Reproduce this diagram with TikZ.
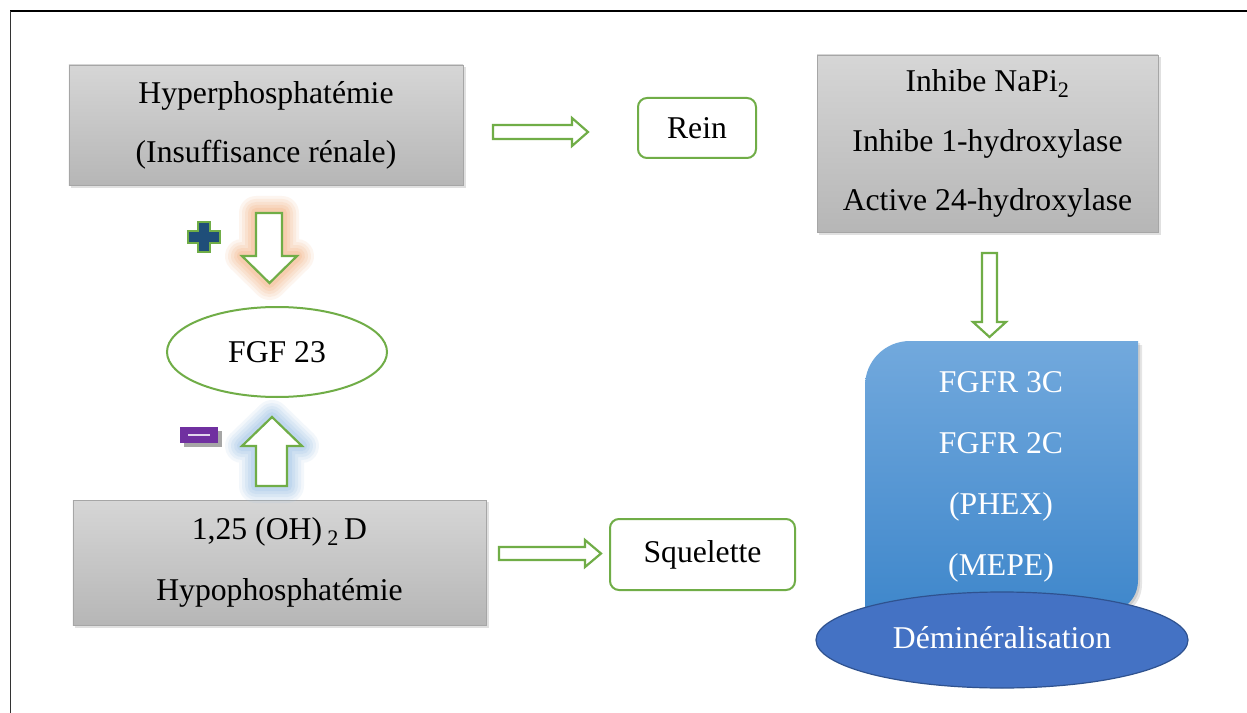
\documentclass[tikz,border=0pt]{standalone}
\usepackage{fontspec}
\setmainfont{Liberation Serif}
\usetikzlibrary{shapes.geometric}
\definecolor{grn}{HTML}{70AD47}
\definecolor{boxtop}{HTML}{D6D6D6}
\definecolor{boxbot}{HTML}{B6B6B6}
\definecolor{boxedge}{HTML}{A6A6A6}
\definecolor{bluetop}{HTML}{72A9DD}
\definecolor{bluebot}{HTML}{3F87CB}
\definecolor{ellblue}{HTML}{4472C4}
\definecolor{elledge}{HTML}{2F528F}
\definecolor{plusblue}{HTML}{1F4E79}
\definecolor{minuspurple}{HTML}{7030A0}
\definecolor{glowor}{HTML}{F4B183}
\definecolor{glowbl}{HTML}{9DC3E6}
\newcommand\dgtxt{\fontsize{31.8}{61}\selectfont}
\tikzset{
  graybox/.style={draw=boxedge, line width=0.8bp, top color=boxtop, bottom color=boxbot,
    align=center, font=\dgtxt, inner sep=0pt},
  greenbox/.style={draw=grn, line width=2bp, rounded corners=9bp, fill=white,
    font=\dgtxt, inner sep=0pt},
  greenell/.style={ellipse, draw=grn, line width=2bp, fill=white, font=\dgtxt, inner sep=0pt},
  blockarrow/.style={draw=grn, line width=2.2bp, fill=white, line join=miter},
  glow/.style={line join=round, line cap=round},
  boxshadow/.style={fill=black, opacity=0.12}
}
\begin{document}
\begin{tikzpicture}[x=1bp,y=-1bp]
\useasboundingbox (0,0) rectangle (1247,713);
\fill[white] (0,0) rectangle (1247,713);
% frame
\draw[line width=2bp, black] (10,11) -- (1247,11);
\draw[line width=1bp, black!80] (10,11) -- (10,713);

% shadows of gray boxes
\fill[boxshadow] (71,67) rectangle (466,188);
\fill[boxshadow] (819,57) rectangle (1161,235);
\fill[boxshadow] (75,502) rectangle (489,628);

% gray boxes
\node[graybox, minimum width=394bp, minimum height=120bp] (hyper) at (266,125)
  {\raisebox{-2bp}{Hyperphosphatémie}\\(Insuffisance rénale)};
\node[graybox, minimum width=341bp, minimum height=177bp] (inhibe) at (987.5,143.5)
  {\raisebox{-3bp}{Inhibe NaPi\textsubscript{2}}\\\raisebox{-2bp}{Inhibe 1-hydroxylase}\\Active 24-hydroxylase};
\node[graybox, minimum width=413bp, minimum height=125bp] (vitd) at (279.5,562.5)
  {1,25 (OH)\,\textsubscript{2}\,D\\Hypophosphatémie};

% rounded green boxes
\node[greenbox, minimum width=118bp, minimum height=60bp] (rein) at (697,128) {Rein};
\node[greenbox, minimum width=185bp, minimum height=71bp] (sq) at (702.5,554.5) {Squelette};

% FGF 23 ellipse
\node[greenell, minimum width=220bp, minimum height=90bp] (fgf) at (277,352) {FGF 23};

% horizontal block arrows
\draw[blockarrow] (493,125) -- (572,125) -- (572,118) -- (588,132) -- (572,146) -- (572,139) -- (493,139) -- cycle;
\draw[blockarrow] (499,547) -- (585,547) -- (585,540) -- (601,553.5) -- (585,567) -- (585,560) -- (499,560) -- cycle;
% vertical block arrow (right)
\draw[blockarrow] (982,253) -- (997,253) -- (997,322) -- (1006,322) -- (989.5,337) -- (973,322) -- (982,322) -- cycle;

% down arrow with orange glow
\def\downpath{(256,213) -- (282,213) -- (282,256) -- (297,256) -- (269.5,283) -- (242,256) -- (256,256) -- cycle}
\foreach \w/\o in {34/0.12, 28/0.14, 22/0.17, 16/0.2, 10/0.25}
  \draw[glowor, opacity=\o, line width=\w bp, glow] \downpath;
\draw[blockarrow] \downpath;

% up arrow with blue glow
\def\uppath{(272,417) -- (302,446) -- (287,446) -- (287,486) -- (256,486) -- (256,446) -- (242,446) -- cycle}
\foreach \w/\o in {34/0.12, 28/0.14, 22/0.17, 16/0.2, 10/0.25}
  \draw[glowbl, opacity=\o, line width=\w bp, glow] \uppath;
\draw[blockarrow] \uppath;

% plus sign
\draw[draw=grn, line width=1.5bp, fill=plusblue]
  (198,222) -- (210,222) -- (210,231) -- (220,231) -- (220,243) -- (210,243) -- (210,252)
  -- (198,252) -- (198,243) -- (188,243) -- (188,231) -- (198,231) -- cycle;

% minus sign
\fill[black!35] (184,431) rectangle (222,447);
\fill[minuspurple] (180,427) rectangle (218,443);
\draw[line width=1.2bp, white!80!minuspurple] (188,435) -- (210,435);

% blue receptor shape
\def\bluepath{(865,612) -- (865,386) .. controls (865,361) and (885,341) .. (910,341) -- (1138,341) -- (1138,580) .. controls (1138,598) and (1125,612) .. (1106,612) -- cycle}
\begin{scope}[shift={(4,4)}]
  \fill[black, opacity=0.10] \bluepath;
\end{scope}
\begin{scope}[shift={(2,2)}]
  \fill[black, opacity=0.10] \bluepath;
\end{scope}
\shade[top color=bluetop, bottom color=bluebot] \bluepath;
\node[align=center, font=\dgtxt, text=white, inner sep=0pt] (fgfr) at (1001,477)
  {FGFR 3C\\FGFR 2C\\(PHEX)\\(MEPE)};

% Déminéralisation ellipse
\node[ellipse, draw=elledge, line width=1.2bp, fill=ellblue, text=white, font=\dgtxt,
  minimum width=372bp, minimum height=96bp, inner sep=0pt] (demin) at (1002,640)
  {\raisebox{5bp}{Déminéralisation}};
\end{tikzpicture}
\end{document}
